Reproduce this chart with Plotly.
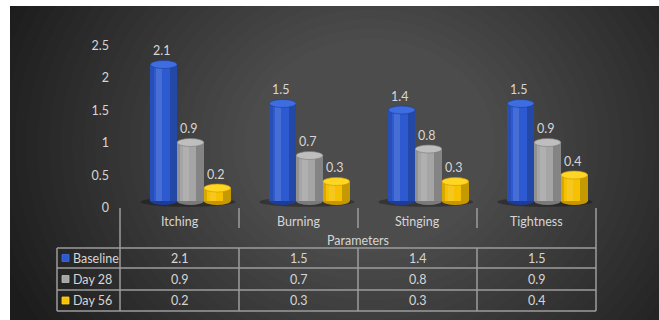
import plotly.graph_objects as go

categories = ["Itching", "Burning", "Stinging", "Tightness"]
series_names = ["Baseline", "Day 28", "Day 56"]
baseline = [2.1, 1.5, 1.4, 1.5]
day28 = [0.9, 0.7, 0.8, 0.9]
day56 = [0.2, 0.3, 0.3, 0.4]
y_ticks = [0, 0.5, 1, 1.5, 2, 2.5]
x_title = "Parameters"

series_values = [baseline, day28, day56]
body_colors = ["#2d5ad0", "#a5a5a5", "#f5c100"]
top_colors = ["#3d6de0", "#bebebe", "#ffd624"]
edge_colors = ["#1c3c98", "#7a7a7a", "#c99600"]
offsets = [-0.245, -0.02, 0.205]
bar_w = 0.225

W, H = 659, 320
FONT = "Lato"
TXT = "#d6d6d6"
LINE = "#9c9c9c"

# pixel mapping for layout decorations
X_LEFT, CAT_W = 120, 119.0
Y_ZERO, UNIT = 201.0, 65.0
Y_MIN, Y_MAX = -0.15, 2.6


def px(x):
    return x / W


def py(y):
    return 1 - y / H


fig = go.Figure()

for s, name in enumerate(series_names):
    vals = series_values[s]
    fig.add_trace(go.Bar(
        x=categories, y=vals, name=name, width=bar_w, offset=offsets[s],
        marker=dict(color=body_colors[s], line=dict(width=0)),
        showlegend=False, hoverinfo="skip"))
    # cylinder shading: dark right side, light left highlight
    fig.add_trace(go.Bar(
        x=categories, y=vals, width=bar_w * 0.28, offset=offsets[s] + bar_w * 0.72,
        marker=dict(color="rgba(0,0,0,0.2)", line=dict(width=0)),
        showlegend=False, hoverinfo="skip"))
    fig.add_trace(go.Bar(
        x=categories, y=vals, width=bar_w * 0.12, offset=offsets[s],
        marker=dict(color="rgba(0,0,0,0.12)", line=dict(width=0)),
        showlegend=False, hoverinfo="skip"))
    fig.add_trace(go.Bar(
        x=categories, y=vals, width=bar_w * 0.22, offset=offsets[s] + bar_w * 0.22,
        marker=dict(color="rgba(255,255,255,0.12)", line=dict(width=0)),
        showlegend=False, hoverinfo="skip"))

shapes = []
# dark background panel
shapes.append(dict(type="rect", xref="paper", yref="paper", x0=px(10), x1=1, y0=0, y1=py(6),
                   fillcolor="#1c1c1c", line=dict(width=0), layer="below"))
# soft radial light
n = 24
for k in range(n):
    rx = 390 - k * 11.5
    ry = rx * 0.85
    cx, cy = 370, 145
    shapes.append(dict(type="circle", xref="paper", yref="paper",
                       x0=px(cx - rx), x1=px(cx + rx),
                       y0=py(cy + ry), y1=py(cy - ry),
                       fillcolor="rgba(255,255,255,0.011)", line=dict(width=0), layer="below"))
# re-cover the white margins
shapes.append(dict(type="rect", xref="paper", yref="paper", x0=-0.5, x1=px(10), y0=-0.5, y1=1.5,
                   fillcolor="white", line=dict(width=0), layer="below"))
shapes.append(dict(type="rect", xref="paper", yref="paper", x0=-0.5, x1=1.5, y0=py(6), y1=1.5,
                   fillcolor="white", line=dict(width=0), layer="below"))

eh = 8.0 / UNIT  # ellipse height in data units
for i, c in enumerate(categories):
    # floor shadow
    shapes.append(dict(type="circle", xref="x", yref="y",
                       x0=i - 0.33, x1=i + 0.47, y0=-0.09, y1=0.06,
                       fillcolor="rgba(0,0,0,0.3)", line=dict(width=0), layer="below"))
for s in range(3):
    for i, v in enumerate(series_values[s]):
        x0 = i + offsets[s]
        x1 = x0 + bar_w
        shapes.append(dict(type="circle", xref="x", yref="y", x0=x0, x1=x1,
                           y0=-eh / 2, y1=eh / 2, fillcolor=edge_colors[s],
                           line=dict(width=0), layer="below"))
        shapes.append(dict(type="circle", xref="x", yref="y", x0=x0, x1=x1,
                           y0=v - eh / 2, y1=v + eh / 2, fillcolor=top_colors[s],
                           line=dict(color=edge_colors[s], width=0.6), layer="above"))

# tick separators below the axis
bounds = [X_LEFT + k * CAT_W for k in range(len(categories) + 1)]
for k, b in enumerate(bounds):
    outer = k == 0 or k == len(bounds) - 1
    shapes.append(dict(type="line", xref="paper", yref="paper", x0=px(b), x1=px(b),
                       y0=py(208), y1=py(248 if outer else 228),
                       line=dict(color=LINE, width=1.5)))

# data table grid
row_lines = [248, 268, 290, 311]
TBL_LEFT = 57
for r in row_lines:
    shapes.append(dict(type="line", xref="paper", yref="paper", x0=px(TBL_LEFT), x1=px(bounds[-1]),
                       y0=py(r), y1=py(r), line=dict(color=LINE, width=1.5)))
for b in [TBL_LEFT] + bounds:
    shapes.append(dict(type="line", xref="paper", yref="paper", x0=px(b), x1=px(b),
                       y0=py(row_lines[0]), y1=py(row_lines[-1]), line=dict(color=LINE, width=1.5)))

annotations = []
# data labels
for s in range(3):
    for i, v in enumerate(series_values[s]):
        annotations.append(dict(x=i + offsets[s] + bar_w / 2, y=v, xref="x", yref="y",
                                text=f"{v}", showarrow=False, yshift=14, xshift=-2,
                                yanchor="middle",
                                font=dict(family=FONT, size=12.5, color=TXT)))
# category labels
for i, c in enumerate(categories):
    annotations.append(dict(x=i, y=py(221), xref="x", yref="paper", text=c, showarrow=False,
                            yanchor="middle", font=dict(family=FONT, size=12.5, color=TXT)))
annotations.append(dict(x=(len(categories) - 1) / 2, y=py(240), xref="x", yref="paper",
                        text=x_title, showarrow=False, yanchor="middle",
                        font=dict(family=FONT, size=12.5, color=TXT)))
# table content
for s, name in enumerate(series_names):
    yc = (row_lines[s] + row_lines[s + 1]) / 2
    shapes.append(dict(type="rect", xref="paper", yref="paper", x0=px(62), x1=px(69),
                       y0=py(yc + 3.5), y1=py(yc - 3.5), fillcolor=body_colors[s],
                       line=dict(color=top_colors[s], width=0.8)))
    annotations.append(dict(x=px(71), y=py(yc), xref="paper", yref="paper", text=name,
                            showarrow=False, xanchor="left", yanchor="middle",
                            font=dict(family=FONT, size=12.5, color=TXT)))
    for i, v in enumerate(series_values[s]):
        annotations.append(dict(x=i, y=py(yc), xref="x", yref="paper", text=f"{v}",
                                showarrow=False, yanchor="middle",
                                font=dict(family=FONT, size=12.5, color=TXT)))

fig.update_layout(
    template="none",
    width=W, height=H, margin=dict(l=0, r=0, t=0, b=0, pad=0, autoexpand=False),
    paper_bgcolor="white", plot_bgcolor="rgba(0,0,0,0)",
    barmode="overlay", bargap=0,
    xaxis=dict(domain=[px(X_LEFT), px(X_LEFT + CAT_W * len(categories))],
               range=[-0.5, len(categories) - 0.5], type="category", automargin=False,
               showticklabels=False, showgrid=False, zeroline=False, showline=False, ticks=""),
    yaxis=dict(domain=[py(Y_ZERO - Y_MIN * UNIT), py(Y_ZERO - Y_MAX * UNIT)],
               range=[Y_MIN, Y_MAX], tickvals=y_ticks, ticktext=[f"{t:g}" for t in y_ticks],
               showgrid=False, zeroline=False, showline=False, ticks="", automargin=False,
               ticklabelstandoff=10, ticklabelshift=7,
               tickfont=dict(family=FONT, size=12.5, color=TXT)),
    shapes=shapes, annotations=annotations,
)

fig.write_html("out.html")
